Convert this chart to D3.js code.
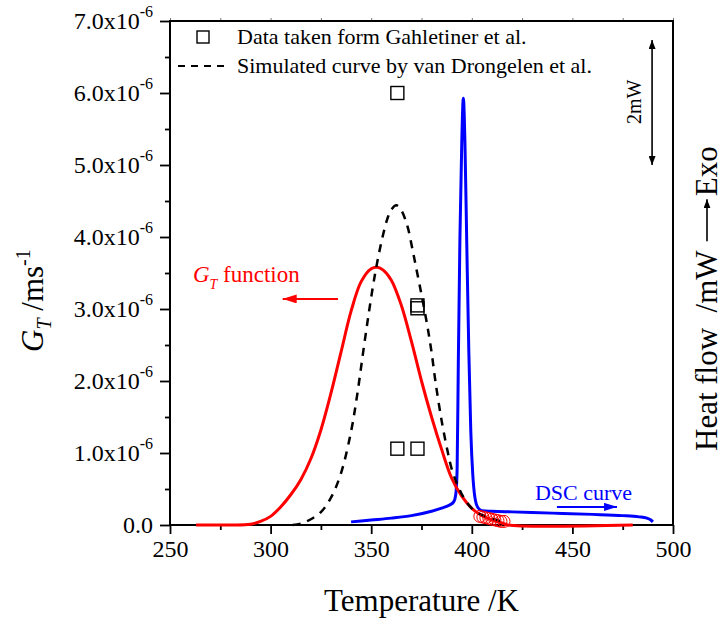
<!DOCTYPE html>
<html>
<head>
<meta charset="utf-8">
<script src="https://d3js.org/d3.v7.min.js"></script>
<style>
  body { margin: 0; background: #fff; }
  svg { font-family: "Liberation Serif", "Times New Roman", serif; }
  text { white-space: pre; }
</style>
</head>
<body>
<svg id="chart"></svg>
<script>
// G_T function (red line), values in 10^-6 m/s
var gtTemp = [263, 280, 290, 295, 300, 305, 310, 315, 320, 325, 330, 335, 340, 345, 350, 353, 356, 360, 365, 370, 375, 380, 385, 390, 395, 400, 405, 410, 415, 418, 480];
var gtVal  = [0, 0, 0.01, 0.05, 0.12, 0.25, 0.42, 0.63, 0.92, 1.32, 1.83, 2.40, 2.97, 3.38, 3.56, 3.58, 3.54, 3.40, 3.05, 2.55, 2.00, 1.50, 1.05, 0.65, 0.40, 0.23, 0.13, 0.07, 0.03, 0, 0];

// simulated curve, van Drongelen et al. (dashed), 10^-6 m/s
var simTemp = [311, 315, 320, 325, 330, 335, 340, 343, 346, 349, 352, 355, 358, 360, 362.5, 365, 368, 370, 372, 375, 378, 380, 382, 385, 388, 390, 393, 396, 400, 405, 410, 415];
var simVal  = [0, 0.02, 0.08, 0.18, 0.38, 0.72, 1.30, 1.80, 2.40, 2.98, 3.50, 3.92, 4.25, 4.38, 4.44, 4.37, 4.15, 3.90, 3.62, 3.20, 2.75, 2.40, 1.98, 1.45, 1.02, 0.78, 0.55, 0.38, 0.23, 0.14, 0.09, 0.05];

// data taken from Gahleitner et al. (squares)
var expTemp = [363, 373, 373, 363, 373];
var expVal  = [6.0, 3.05, 3.01, 1.06, 1.06];

// red open circles at the tail of G_T
var circTemp = [404, 405.5, 407, 408.5, 410, 411.5, 413, 414.5, 416];
var circVal  = [0.12, 0.11, 0.10, 0.09, 0.08, 0.07, 0.06, 0.05, 0.05];

// DSC curve (blue), heat flow in mW (relative)
var dscTemp = [340, 350, 360, 370, 380, 385, 389, 391, 392, 392.7, 393.3, 394.1, 395, 395.8, 396.6, 397.5, 398.5, 399.5, 400.5, 401.5, 403, 405, 410, 420, 440, 460, 475, 483, 487, 489, 490];
var dscVal  = [0.05, 0.08, 0.11, 0.15, 0.22, 0.27, 0.32, 0.37, 0.48, 0.88, 2.6, 4.6, 6.1, 6.83, 6.1, 4.5, 2.8, 1.5, 0.8, 0.45, 0.28, 0.23, 0.22, 0.21, 0.19, 0.17, 0.15, 0.13, 0.11, 0.08, 0.05];

// axis ticks
var xTicks = [250, 300, 350, 400, 450, 500];
var xMinor = [275, 325, 375, 425, 475];
var yTicks = [0, 1, 2, 3, 4, 5, 6, 7];
var yMinor = [0.5, 1.5, 2.5, 3.5, 4.5, 5.5, 6.5];

var width = 723, height = 619;
var margin = {left: 170, right: 50, top: 21, bottom: 94};
var svg = d3.select("#chart").attr("width", width).attr("height", height);

var x = d3.scaleLinear().domain([250, 500]).range([margin.left, width - margin.right]);
var y = d3.scaleLinear().domain([0, 7]).range([height - margin.bottom, margin.top]);
// right (heat flow) scale, hidden axis
var yR = d3.scaleLinear().domain([0, 8.064]).range([height - margin.bottom, margin.top]);

var defs = svg.append("defs");
function marker(id, color, w, h) {
  defs.append("marker").attr("id", id)
    .attr("viewBox", "0 0 " + w + " " + h)
    .attr("refX", w).attr("refY", h / 2)
    .attr("markerWidth", w).attr("markerHeight", h)
    .attr("markerUnits", "userSpaceOnUse")
    .attr("orient", "auto-start-reverse")
    .append("path").attr("d", "M0,0L" + w + "," + (h / 2) + "L0," + h + "Z").attr("fill", color);
}
marker("arRed", "red", 14, 9);
marker("arBlue", "blue", 13, 8);
marker("arBlack", "black", 9, 7);

// axes
var gx = svg.append("g").attr("transform", "translate(0," + y(0) + ")");
gx.call(d3.axisBottom(x).tickValues(xTicks).tickSize(9).tickSizeOuter(0).tickPadding(6));
gx.append("g").call(d3.axisBottom(x).tickValues(xMinor).tickSize(5).tickFormat(""));
gx.attr("font-family", null).attr("font-size", null);
gx.selectAll("text").attr("font-size", 24).attr("fill", "#000");

var gy = svg.append("g").attr("transform", "translate(" + x(250) + ",0)");
gy.call(d3.axisLeft(y).tickValues(yTicks).tickSize(10).tickSizeOuter(0).tickFormat(""));
gy.append("g").call(d3.axisLeft(y).tickValues(yMinor).tickSize(5).tickFormat(""));

var gt = svg.append("g").attr("transform", "translate(0," + y(7) + ")");
gt.call(d3.axisTop(x).tickValues(xTicks.concat(xMinor)).tickSize(3).tickFormat(""));

svg.selectAll(".domain").remove();
svg.selectAll(".tick line").attr("stroke-width", 1.8);
gt.selectAll(".tick line").attr("stroke-width", 1).attr("stroke", "#777");

// y tick labels
yTicks.forEach(function (v) {
  var t = svg.append("text").attr("x", 153).attr("y", y(v) + 8)
    .attr("text-anchor", "end").attr("font-size", 24);
  if (v === 0) { t.text("0.0"); return; }
  t.append("tspan").text(v.toFixed(1) + "x10");
  t.append("tspan").attr("dy", -12).attr("font-size", 16).text("-6");
});

// frame
svg.append("rect").attr("x", x(250)).attr("y", y(7))
  .attr("width", x(500) - x(250)).attr("height", y(0) - y(7))
  .attr("fill", "none").attr("stroke", "#000").attr("stroke-width", 2);

// curves
defs.append("clipPath").attr("id", "clip").append("rect")
  .attr("x", x(250)).attr("y", y(7)).attr("width", x(500) - x(250)).attr("height", y(0) - y(7) + 3);
var plot = svg.append("g").attr("clip-path", "url(#clip)");

var lineL = d3.line().x(function (d) { return x(d[0]); }).y(function (d) { return y(d[1]); }).curve(d3.curveCatmullRom.alpha(0.5));
var lineR = d3.line().x(function (d) { return x(d[0]); }).y(function (d) { return yR(d[1]); }).curve(d3.curveMonotoneX);

plot.append("path").datum(d3.zip(dscTemp, dscVal)).attr("d", lineR)
  .attr("fill", "none").attr("stroke", "blue").attr("stroke-width", 3);
plot.append("path").datum(d3.zip(gtTemp, gtVal)).attr("d", lineL)
  .attr("fill", "none").attr("stroke", "red").attr("stroke-width", 3);
plot.append("path").datum(d3.zip(simTemp, simVal)).attr("d", lineL)
  .attr("fill", "none").attr("stroke", "#000").attr("stroke-width", 2.5).attr("stroke-dasharray", "8,7");

plot.selectAll("circle.c").data(d3.zip(circTemp, circVal)).enter().append("circle")
  .attr("cx", function (d) { return x(d[0]); }).attr("cy", function (d) { return y(d[1]); })
  .attr("r", 6).attr("fill", "none").attr("stroke", "red").attr("stroke-width", 1);

plot.selectAll("rect.sq").data(d3.zip(expTemp, expVal)).enter().append("rect")
  .attr("x", function (d) { return x(d[0]) - 6.5; }).attr("y", function (d) { return y(d[1]) - 6.5; })
  .attr("width", 13).attr("height", 13)
  .attr("fill", "none").attr("stroke", "#000").attr("stroke-width", 1.4);

// legend
svg.append("rect").attr("x", 197).attr("y", 31).attr("width", 12).attr("height", 12)
  .attr("fill", "none").attr("stroke", "#000").attr("stroke-width", 1.4);
svg.append("text").attr("x", 237).attr("y", 44).attr("font-size", 22).text("Data taken form Gahletiner et al.");
svg.append("line").attr("x1", 178).attr("x2", 224).attr("y1", 66).attr("y2", 66)
  .attr("stroke", "#000").attr("stroke-width", 2).attr("stroke-dasharray", "7,6");
svg.append("text").attr("x", 237).attr("y", 73).attr("font-size", 22).text("Simulated curve by van Drongelen et al.");

// G_T function annotation
var ga = svg.append("text").attr("x", x(261.4)).attr("y", y(3.375)).attr("fill", "red").attr("font-size", 23);
ga.append("tspan").attr("font-style", "italic").text("G");
ga.append("tspan").attr("font-style", "italic").attr("font-size", 14).attr("dy", 7).text("T");
ga.append("tspan").attr("dy", -7).text(" function");
svg.append("line").attr("x1", x(333.5)).attr("x2", x(306)).attr("y1", y(3.14)).attr("y2", y(3.14))
  .attr("stroke", "red").attr("stroke-width", 2).attr("marker-end", "url(#arRed)");

// DSC annotation
svg.append("text").attr("x", x(431.4)).attr("y", yR(0.4)).attr("fill", "blue").attr("font-size", 22).text("DSC curve");
svg.append("line").attr("x1", x(442.3)).attr("x2", x(472.2)).attr("y1", yR(0.29)).attr("y2", yR(0.29))
  .attr("stroke", "blue").attr("stroke-width", 2).attr("marker-end", "url(#arBlue)");

// 2 mW scale bar
svg.append("line").attr("x1", x(489.6)).attr("x2", x(489.6)).attr("y1", yR(5.76)).attr("y2", yR(7.76))
  .attr("stroke", "#000").attr("stroke-width", 1.6)
  .attr("marker-start", "url(#arBlack)").attr("marker-end", "url(#arBlack)");
svg.append("text").attr("transform", "translate(" + (x(480.6) + 7) + "," + yR(6.77) + ") rotate(-90)")
  .attr("text-anchor", "middle").attr("font-size", 20).text("2mW");

// x axis title
svg.append("text").attr("x", (x(250) + x(500)) / 2).attr("y", 611).attr("text-anchor", "middle")
  .attr("font-size", 31).text("Temperature /K");

// left axis title
var lt = svg.append("text").attr("transform", "translate(43,352) rotate(-90)").attr("font-size", 31);
lt.append("tspan").attr("font-style", "italic").text("G");
lt.append("tspan").attr("font-style", "italic").attr("font-size", 20).attr("dy", 8).text("T");
lt.append("tspan").attr("dy", -8).text(" /ms");
lt.append("tspan").attr("font-size", 20).attr("dy", -13).text("-1");

// right axis title
var rt = svg.append("g").attr("transform", "translate(717,451) rotate(-90)");
var t1 = rt.append("text").attr("font-size", 31).text("Heat flow  /mW ");
var w = t1.node().getComputedTextLength();
rt.append("line").attr("x1", w + 2).attr("x2", w + 44).attr("y1", -10).attr("y2", -10)
  .attr("stroke", "#000").attr("stroke-width", 1.6).attr("marker-end", "url(#arBlack)");
rt.append("text").attr("x", w + 47).attr("font-size", 31).text("Exo");
</script>
</body>
</html>
